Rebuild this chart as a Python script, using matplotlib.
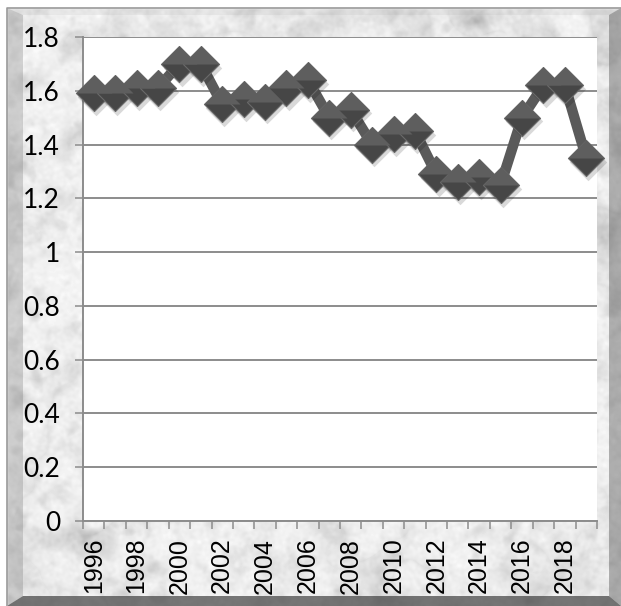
import numpy as np
import matplotlib.pyplot as plt
from matplotlib.path import Path
from matplotlib.patches import Polygon, Rectangle

years = list(range(1996, 2020))
values = [1.59, 1.59, 1.61, 1.61, 1.70, 1.70, 1.55, 1.57, 1.56, 1.61, 1.64, 1.50,
          1.53, 1.40, 1.44, 1.45, 1.29, 1.26, 1.28, 1.25, 1.50, 1.62, 1.62, 1.35]
y_ticks = [0, 0.2, 0.4, 0.6, 0.8, 1.0, 1.2, 1.4, 1.6, 1.8]
y_tick_labels = ['0', '0.2', '0.4', '0.6', '0.8', '1', '1.2', '1.4', '1.6', '1.8']

W, H = 621, 606
fig = plt.figure(figsize=(W / 100, H / 100), dpi=100)


def smooth_noise(rng, shape, sigma):
    # gaussian-filtered white noise, done in the frequency domain
    n = rng.standard_normal(shape)
    fy = np.fft.fftfreq(shape[0])[:, None]
    fx = np.fft.fftfreq(shape[1])[None, :]
    g = np.exp(-2 * (np.pi * sigma) ** 2 * (fx ** 2 + fy ** 2))
    out = np.real(np.fft.ifft2(np.fft.fft2(n) * g))
    return out / out.std()


# marble backdrop: pale stone with soft grey clouds and diffuse streaks
rng = np.random.default_rng(11)
big = smooth_noise(rng, (H, W), 35)
mid = smooth_noise(rng, (H, W), 10)
small = smooth_noise(rng, (H, W), 4)
fine = smooth_noise(rng, (H, W), 1.5)
streaks = np.exp(-np.abs(big + 0.5 * mid) * 2.2)
marble = 0.95 - 0.045 * np.clip(mid - 0.3, 0, None) \
    - 0.03 * np.clip(small - 0.3, 0, None) + 0.01 * fine - 0.06 * streaks
marble = np.clip(marble, 0.65, 0.99)

bg = fig.add_axes([0, 0, 1, 1])
bg.imshow(marble, cmap='gray', vmin=0, vmax=1, extent=(0, W, H, 0),
          interpolation='bilinear')
bg.set_xlim(0, W)
bg.set_ylim(H, 0)
bg.axis('off')

# white margin outside the frame
bg.add_patch(Rectangle((0, 0), 7, H, color='white', zorder=2))
bg.add_patch(Rectangle((0, 0), W, 8, color='white', zorder=2))

# bevelled frame edges
bg.add_patch(Polygon([(7, 8), (23, 15), (23, 596), (7, 606)],
                     closed=True, color='#7a7a7a', alpha=0.3, lw=0, zorder=3))
bg.add_patch(Polygon([(7, 8), (621, 8), (609, 15), (23, 15)],
                     closed=True, color='#9a9a9a', alpha=0.12, lw=0, zorder=3))
bg.add_patch(Polygon([(609, 15), (621, 8), (621, 606), (609, 596)],
                     closed=True, color='#505050', alpha=0.42, lw=0, zorder=3))
bg.add_patch(Polygon([(7, 606), (23, 596), (609, 596), (621, 606)],
                     closed=True, color='#3a3a3a', alpha=0.68, lw=0, zorder=3))
bg.plot([7, 7, 621], [606, 8, 8], color='#9a9a9a', lw=1.2, zorder=4)

# chart
ax = fig.add_axes([83 / W, 1 - 521 / H, (597 - 83) / W, (521 - 37) / H])
ax.set_facecolor('white')
x = np.arange(len(years))
ax.set_xlim(-0.5, len(years) - 0.5)
ax.set_ylim(0, 1.8)

grey = '#8c8c8c'
ax.set_yticks(y_ticks, y_tick_labels, fontfamily='Lato', fontsize=19)
ax.yaxis.grid(True, color=grey, lw=1.4)
ax.set_axisbelow(True)
for side in ['top', 'right']:
    ax.spines[side].set_visible(False)
for side in ['left', 'bottom']:
    ax.spines[side].set_color(grey)
    ax.spines[side].set_linewidth(1.4)
ax.tick_params(axis='y', length=5.5, width=1.1, color=grey, pad=11)

# category boundaries get the ticks, every other year gets a label
ax.set_xticks(np.arange(-0.5, len(years), 1))
ax.set_xticklabels([])
ax.tick_params(axis='x', which='major', length=5.5, width=1.1, color=grey)
ax.set_xticks(x[::2], minor=True)
ax.set_xticklabels([str(y) for y in years[::2]], minor=True, rotation=90,
                   fontfamily='Liberation Sans', fontsize=18)
ax.tick_params(axis='x', which='minor', length=0, pad=12)

# bevelled diamond markers: dark body with a lighter upper half
diamond = Path([(0, 1), (1, 0), (0, -1), (-1, 0), (0, 1)])
upper = Path([(-1, 0), (0, 1), (1, 0), (-1, 0)])

ax.plot(x, values, color='#5a5a5a', lw=7.5, zorder=3, clip_on=False)
ax.plot(x + 0.1, np.array(values) - 0.014, ls='none', marker=diamond, ms=27,
        mfc='#000000', mec='none', alpha=0.15, zorder=4, clip_on=False)
ax.plot(x, values, ls='none', marker=diamond, ms=26, mfc='#464646',
        mec='#6a6a6a', mew=0.8, zorder=5, clip_on=False)
ax.plot(x, values, ls='none', marker=upper, ms=26, mfc='#5e5e5e',
        mec='none', zorder=6, clip_on=False)

fig.savefig('out.png', dpi=100)
